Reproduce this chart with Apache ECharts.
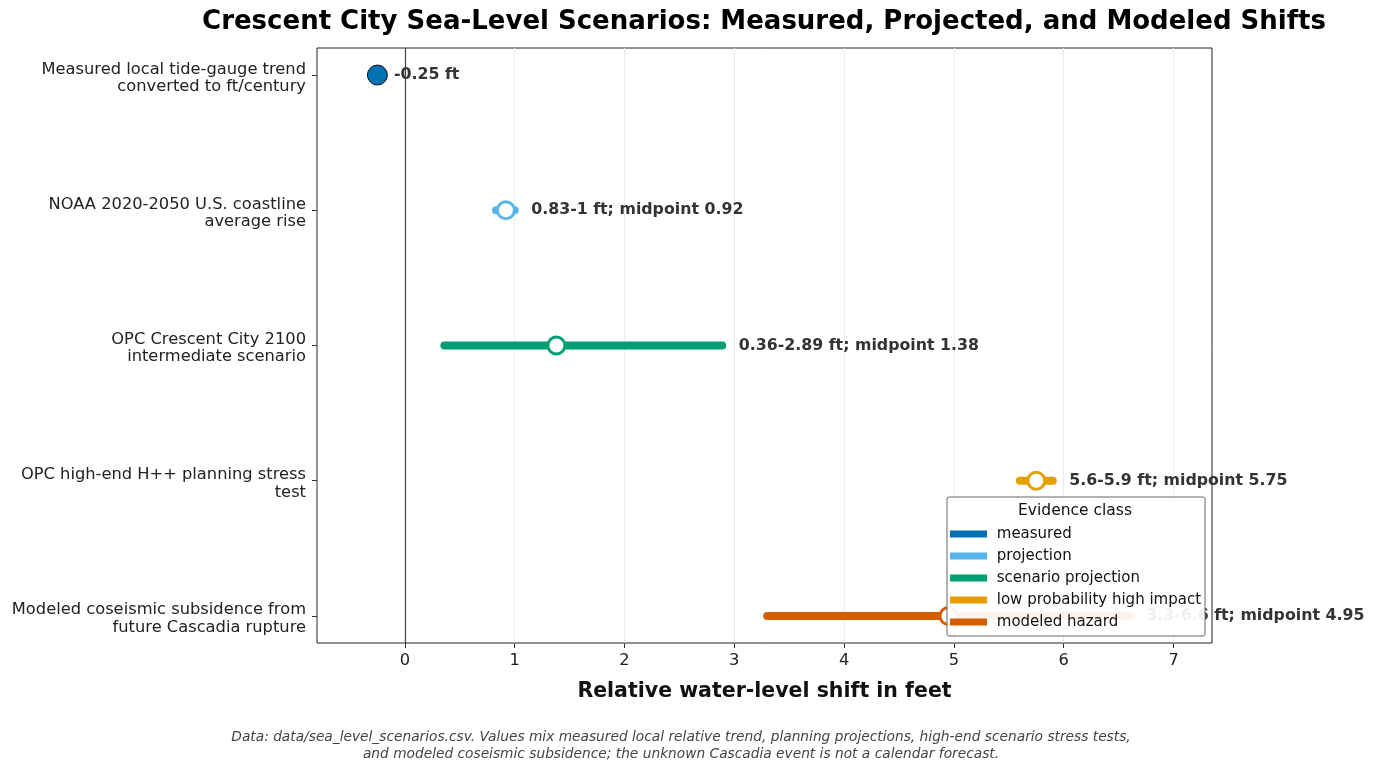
<!DOCTYPE html>
<html>
<head>
<meta charset="utf-8">
<script src="https://cdn.jsdelivr.net/npm/echarts@6/dist/echarts.min.js"></script>
<style>
  html, body { margin: 0; padding: 0; background: #fff; }
  #chart { width: 1378px; height: 763px; }
</style>
</head>
<body>
<div id="chart"></div>
<script>
const ROW_LABELS = [
  'Measured local tide-gauge trend\nconverted to ft/century',
  'NOAA 2020-2050 U.S. coastline\naverage rise',
  'OPC Crescent City 2100\nintermediate scenario',
  'OPC high-end H++ planning stress\ntest',
  'Modeled coseismic subsidence from\nfuture Cascadia rupture',
];
const CLASSES = ['measured', 'projection', 'scenario projection', 'low probability high impact', 'modeled hazard'];
const LOWS = [null, 0.83, 0.36, 5.6, 3.3];
const HIGHS = [null, 1, 2.89, 5.9, 6.6];
const MIDS = [-0.25, 0.92, 1.38, 5.75, 4.95];
const COLORS = ['#0072B2', '#56B4E9', '#009E73', '#E69F00', '#D55E00'];
const X_TICKS = [0, 1, 2, 3, 4, 5, 6, 7];
const Y_TICKS = [0, 1, 2, 3, 4];

const FONT = 'DejaVu Sans';

// one line series per evidence class (range bar)
const rangeSeries = CLASSES.map((cls, i) => ({
  name: cls,
  type: 'line',
  color: COLORS[i],
  data: LOWS[i] === null ? [] : [[LOWS[i], i], [HIGHS[i], i]],
  showSymbol: false,
  lineStyle: { width: 8, cap: 'round', color: COLORS[i] },
  z: 2,
  silent: true,
}));

const midData = MIDS.map((m, i) => {
  if (LOWS[i] === null) {
    return {
      value: [m, i],
      symbolSize: 20,
      itemStyle: { color: COLORS[i], borderColor: '#111', borderWidth: 1, opacity: 1 },
    };
  }
  return {
    value: [m, i],
    symbolSize: 17,
    itemStyle: { color: '#fff', borderColor: COLORS[i], borderWidth: 3, opacity: 1 },
  };
});

const labelData = MIDS.map((m, i) => {
  const txt = LOWS[i] === null
    ? `${m} ft`
    : `${LOWS[i]}-${HIGHS[i]} ft; midpoint ${m}`;
  return { value: [HIGHS[i] === null ? m : HIGHS[i], i], txt: txt };
});

// row labels sit a little below their tick, so pad with a thin first line
function rowLabel(v) {
  const t = ROW_LABELS[Math.round(v)];
  if (!t) return '';
  return '{s| }\n' + t.split('\n').map((l) => `{a|${l}}`).join('\n');
}

const option = {
  animation: false,
  backgroundColor: '#fff',
  textStyle: { fontFamily: FONT },
  grid: {
    left: 317, top: 48, width: 895, height: 595,
    show: true, borderColor: '#222', borderWidth: 1,
    containLabel: false, outerBoundsMode: 'none',
  },
  xAxis: {
    type: 'value',
    min: -0.8, max: 7.35,
    minInterval: 1, maxInterval: 1,
    name: 'Relative water-level shift in feet',
    nameLocation: 'middle',
    nameGap: 38,
    nameTextStyle: { fontSize: 20.5, fontWeight: 'bold', color: '#111', fontFamily: FONT },
    axisLine: { show: false, onZero: false },
    axisTick: { show: true, customValues: X_TICKS, length: 5, lineStyle: { color: '#333' } },
    axisLabel: { customValues: X_TICKS, fontSize: 16.3, color: '#222', margin: 10, fontFamily: FONT },
    splitLine: { show: true, lineStyle: { color: '#ebebeb', width: 1 } },
  },
  yAxis: {
    type: 'value',
    inverse: true,
    min: -0.2, max: 4.2,
    minInterval: 1, maxInterval: 1,
    axisLine: { show: false, onZero: false },
    axisTick: { show: true, customValues: Y_TICKS, length: 5, lineStyle: { color: '#333' } },
    axisLabel: {
      customValues: Y_TICKS,
      formatter: rowLabel,
      margin: 11,
      align: 'right',
      rich: {
        s: { fontSize: 1, lineHeight: 6 },
        a: { fontSize: 16.3, lineHeight: 17.5, color: '#222', fontFamily: FONT, align: 'right' },
      },
    },
    splitLine: { show: false },
  },
  legend: {
    data: CLASSES,
    orient: 'vertical',
    left: 947, top: 497,
    padding: [29, 4, 6, 3],
    itemWidth: 37, itemHeight: 7, itemGap: 6,
    icon: 'rect',
    formatter: (n) => ' ' + n,
    backgroundColor: 'rgba(255,255,255,0.93)',
    borderColor: '#666', borderWidth: 1, borderRadius: 2,
    textStyle: { fontSize: 15, lineHeight: 16, color: '#111', fontFamily: FONT },
    selectedMode: false,
    z: 10,
  },
  graphic: [
    {
      type: 'text', z: 20,
      style: {
        text: 'Crescent City Sea-Level Scenarios: Measured, Projected, and Modeled Shifts',
        x: 764, y: 22, textAlign: 'center', textVerticalAlign: 'middle',
        font: 'bold 26px "DejaVu Sans"', fill: '#000',
      },
    },
    {
      type: 'text', z: 20,
      style: {
        text: 'Evidence class', x: 1075, y: 511,
        textAlign: 'center', textVerticalAlign: 'middle',
        font: '15.5px "DejaVu Sans"', fill: '#111',
      },
    },
    {
      type: 'text', z: 20,
      style: {
        text: 'Data: data/sea_level_scenarios.csv. Values mix measured local relative trend, planning projections, high-end scenario stress tests,\nand modeled coseismic subsidence; the unknown Cascadia event is not a calendar forecast.',
        x: 681, y: 746, textAlign: 'center', textVerticalAlign: 'middle',
        font: 'italic 13.75px "DejaVu Sans"', fill: '#444', lineHeight: 17,
      },
    },
  ],
  series: [
    ...rangeSeries,
    {
      type: 'scatter',
      name: 'midpoints',
      data: midData,
      symbol: 'circle',
      z: 3,
      silent: true,
    },
    {
      type: 'scatter',
      name: 'labels',
      data: labelData,
      symbolSize: 1,
      itemStyle: { color: 'rgba(0,0,0,0)', opacity: 1 },
      z: 3,
      silent: true,
      label: {
        show: true,
        position: 'right',
        formatter: (p) => p.data.txt,
        distance: 16,
        fontSize: 15.8, fontWeight: 'bold', color: '#333', fontFamily: FONT,
      },
      markLine: {
        silent: true,
        symbol: 'none',
        label: { show: false },
        lineStyle: { color: '#444', width: 1.2, type: 'solid' },
        data: [{ xAxis: 0 }],
      },
    },
  ],
};

const chart = echarts.init(document.getElementById('chart'), null, { renderer: 'canvas' });
chart.setOption(option);
window.addEventListener('resize', () => chart.resize());
</script>
</body>
</html>
